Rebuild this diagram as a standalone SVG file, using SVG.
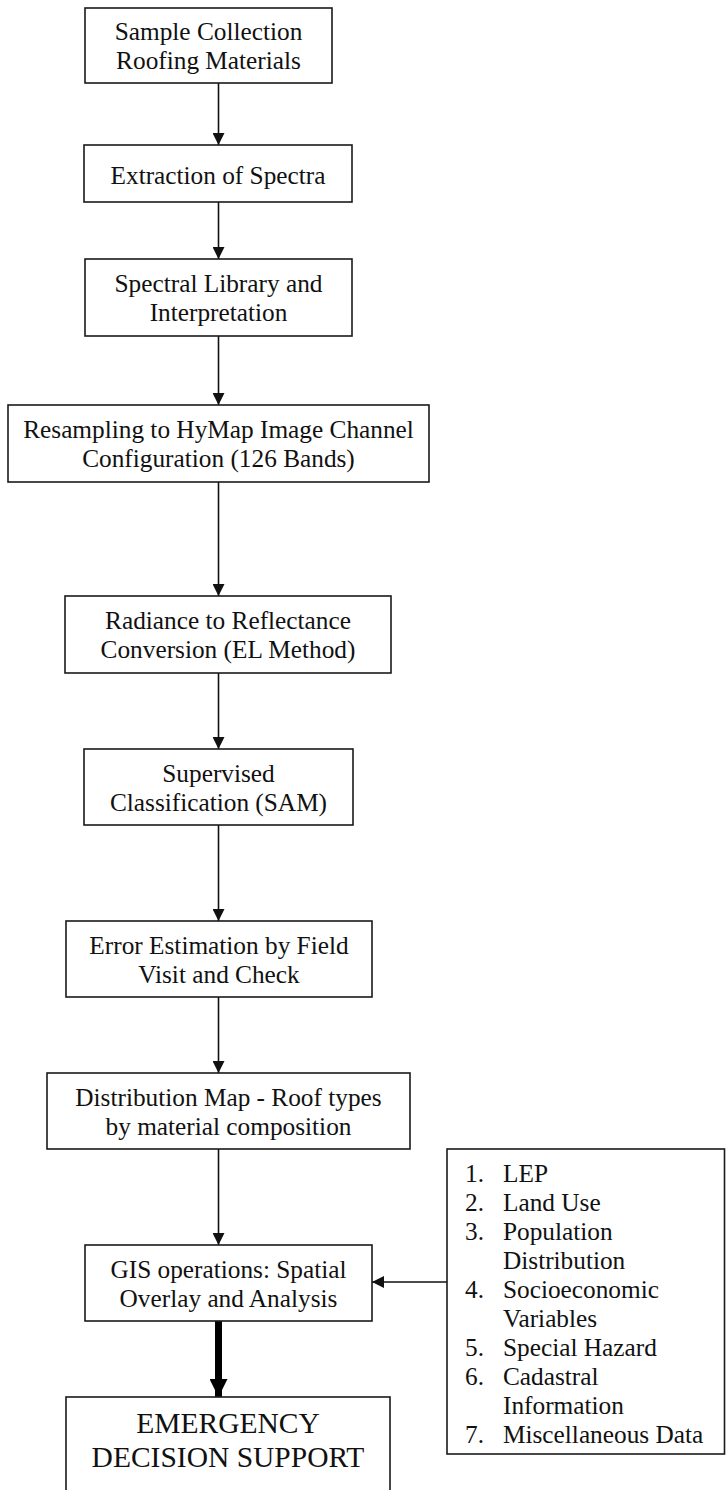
<svg xmlns="http://www.w3.org/2000/svg" width="726" height="1490" viewBox="0 0 726 1490">
<style>
  .box { fill: #ffffff; stroke: #1a1a1a; stroke-width: 1.6; }
  .t { font-family: "Liberation Serif", "Times New Roman", serif; font-size: 25.3px; fill: #111111; text-anchor: middle; }
  .tl { font-family: "Liberation Serif", "Times New Roman", serif; font-size: 25.3px; fill: #111111; }
  .big { font-family: "Liberation Serif", "Times New Roman", serif; font-size: 29.5px; fill: #111111; text-anchor: middle; }
  .conn { stroke: #111111; stroke-width: 1.6; fill: none; }
</style>
<defs>
  <marker id="arr" markerUnits="userSpaceOnUse" markerWidth="13" markerHeight="12" refX="12" refY="6" orient="auto">
    <path d="M0,0 L12,6 L0,12 Z" fill="#111111"/>
  </marker>
  <marker id="arrBig" markerUnits="userSpaceOnUse" markerWidth="19" markerHeight="18" refX="18" refY="9" orient="auto">
    <path d="M0,0 L18,9 L0,18 Z" fill="#000000"/>
  </marker>
</defs>
<rect width="726" height="1490" fill="#ffffff"/>

<g id="connectors">
  <line class="conn" x1="218.5" y1="83" x2="218.5" y2="145" marker-end="url(#arr)"/>
  <line class="conn" x1="218.5" y1="202" x2="218.5" y2="259" marker-end="url(#arr)"/>
  <line class="conn" x1="218.5" y1="336" x2="218.5" y2="405" marker-end="url(#arr)"/>
  <line class="conn" x1="218.5" y1="482" x2="218.5" y2="596" marker-end="url(#arr)"/>
  <line class="conn" x1="218.5" y1="673" x2="218.5" y2="749" marker-end="url(#arr)"/>
  <line class="conn" x1="218.5" y1="825" x2="218.5" y2="921" marker-end="url(#arr)"/>
  <line class="conn" x1="218.5" y1="997" x2="218.5" y2="1073" marker-end="url(#arr)"/>
  <line class="conn" x1="218.5" y1="1149" x2="218.5" y2="1245" marker-end="url(#arr)"/>
  <line x1="218.5" y1="1321" x2="218.5" y2="1397" stroke="#000000" stroke-width="7" marker-end="url(#arrBig)"/>
  <line class="conn" x1="447" y1="1282" x2="372" y2="1282" marker-end="url(#arr)"/>
</g>

<g id="n1">
  <rect class="box" x="85" y="8" width="247" height="75"/>
  <text class="t" x="208.5" y="40">Sample Collection</text>
  <text class="t" x="208.5" y="69">Roofing Materials</text>
</g>
<g id="n2">
  <rect class="box" x="84" y="145" width="268" height="57"/>
  <text class="t" x="218" y="184">Extraction of Spectra</text>
</g>
<g id="n3">
  <rect class="box" x="85" y="259" width="267" height="77"/>
  <text class="t" x="218.5" y="292">Spectral Library and</text>
  <text class="t" x="218.5" y="321">Interpretation</text>
</g>
<g id="n4">
  <rect class="box" x="8" y="405" width="421" height="77"/>
  <text class="t" x="218.5" y="438">Resampling to HyMap Image Channel</text>
  <text class="t" x="218.5" y="467">Configuration (126 Bands)</text>
</g>
<g id="n5">
  <rect class="box" x="65" y="596" width="326" height="77"/>
  <text class="t" x="228" y="629">Radiance to Reflectance</text>
  <text class="t" x="228" y="658">Conversion (EL Method)</text>
</g>
<g id="n6">
  <rect class="box" x="84" y="749" width="269" height="76"/>
  <text class="t" x="218.5" y="781.5">Supervised</text>
  <text class="t" x="218.5" y="810.5">Classification (SAM)</text>
</g>
<g id="n7">
  <rect class="box" x="66" y="921" width="306" height="76"/>
  <text class="t" x="219" y="953.5">Error Estimation by Field</text>
  <text class="t" x="219" y="982.5">Visit and Check</text>
</g>
<g id="n8">
  <rect class="box" x="47" y="1073" width="363" height="76"/>
  <text class="t" x="228.5" y="1105.5">Distribution Map - Roof types</text>
  <text class="t" x="228.5" y="1134.5">by material composition</text>
</g>
<g id="n9">
  <rect class="box" x="85" y="1245" width="287" height="76"/>
  <text class="t" x="228.5" y="1277.5">GIS operations: Spatial</text>
  <text class="t" x="228.5" y="1306.5">Overlay and Analysis</text>
</g>
<g id="n10">
  <rect class="box" x="66" y="1397" width="324" height="110"/>
  <text class="big" x="228" y="1433">EMERGENCY</text>
  <text class="big" x="228" y="1467">DECISION SUPPORT</text>
</g>
<g id="n11">
  <rect class="box" x="447" y="1149" width="277.5" height="305"/>
  <text class="tl" x="465" y="1182">1.</text><text class="tl" x="503" y="1182">LEP</text>
  <text class="tl" x="465" y="1211">2.</text><text class="tl" x="503" y="1211">Land Use</text>
  <text class="tl" x="465" y="1240">3.</text><text class="tl" x="503" y="1240">Population</text>
  <text class="tl" x="503" y="1269">Distribution</text>
  <text class="tl" x="465" y="1298">4.</text><text class="tl" x="503" y="1298">Socioeconomic</text>
  <text class="tl" x="503" y="1327">Variables</text>
  <text class="tl" x="465" y="1356">5.</text><text class="tl" x="503" y="1356">Special Hazard</text>
  <text class="tl" x="465" y="1385">6.</text><text class="tl" x="503" y="1385">Cadastral</text>
  <text class="tl" x="503" y="1414">Information</text>
  <text class="tl" x="465" y="1443">7.</text><text class="tl" x="503" y="1443">Miscellaneous Data</text>
</g>
</svg>
